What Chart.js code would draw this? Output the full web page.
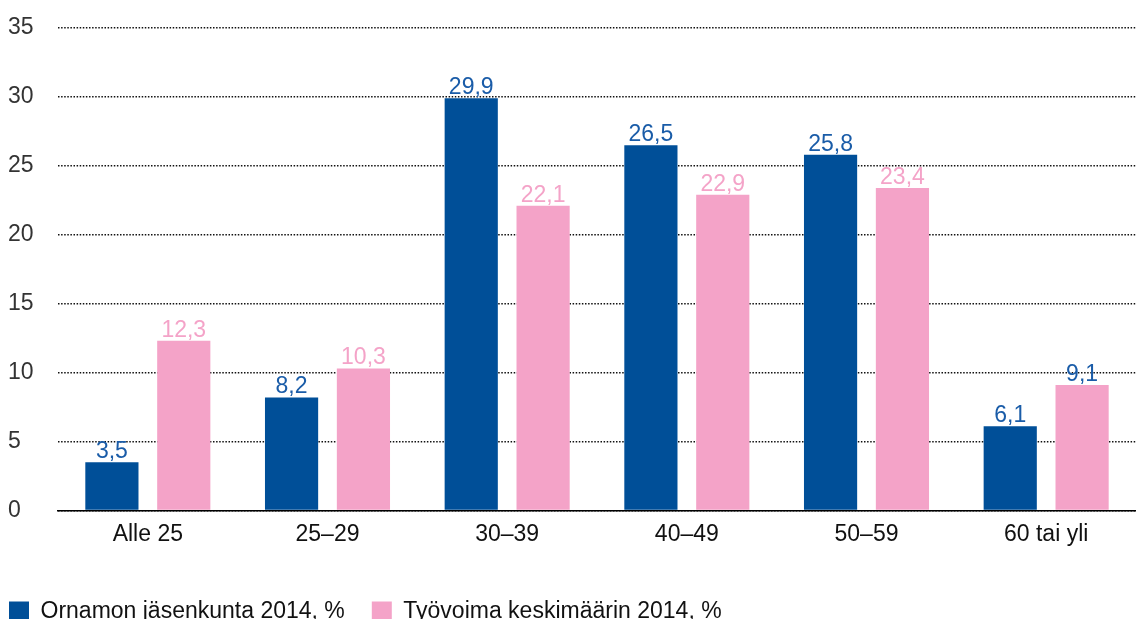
<!DOCTYPE html>
<html>
<head>
<meta charset="utf-8">
<script src="https://cdn.jsdelivr.net/npm/chart.js@4.4.1/dist/chart.umd.min.js"></script>
<style>
    html, body { margin: 0; padding: 0; background: #fff; overflow: hidden; }
    #wrap { width: 1136px; height: 633px; position: relative; }
</style>
</head>
<body>
<div id="wrap"><canvas id="ageChart"></canvas></div>
<script>
// DATA
const categories = ['Alle 25', '25–29', '30–39', '40–49', '50–59', '60 tai yli'];
const ornamoValues = [3.5, 8.2, 29.9, 26.5, 25.8, 6.1];
const workforceValues = [12.3, 10.3, 22.1, 22.9, 23.4, 9.1];
const seriesNames = ['Ornamon jäsenkunta 2014, %', 'Työvoima keskimäärin 2014, %'];
const yTicks = [0, 5, 10, 15, 20, 25, 30, 35];

const BLUE = '#004f98';
const PINK = '#f4a3c8';
const LABEL_BLUE = '#1a5ca8';
const FONT = '"Liberation Sans", Arial, sans-serif';

// value labels above bars, finnish decimal comma
const valueLabels = {
    id: 'valueLabels',
    afterDatasetsDraw(chart) {
        const ctx = chart.ctx;
        ctx.save();
        ctx.font = '23px ' + FONT;
        ctx.textAlign = 'center';
        ctx.textBaseline = 'bottom';
        chart.data.datasets.forEach(function (ds, di) {
            chart.getDatasetMeta(di).data.forEach(function (bar, i) {
                ctx.fillStyle = ds.labelColors[i];
                ctx.fillText(String(ds.data[i]).replace('.', ','), bar.x, bar.y + 1);
            });
        });
        ctx.restore();
    }
};

// legend starts near the canvas edge (padding is wide for the gap between items)
const legendLeft = {
    id: 'legendLeft',
    afterLayout(chart) {
        if (chart.legend) chart.legend.left = -18;
    }
};

const ageChart = new Chart(document.getElementById('ageChart'), {
    type: 'bar',
    data: {
        labels: categories,
        datasets: [{
            label: seriesNames[0],
            data: ornamoValues,
            backgroundColor: BLUE,
            labelColors: ornamoValues.map(() => LABEL_BLUE)
        },
        {
            label: seriesNames[1],
            data: workforceValues,
            backgroundColor: PINK,
            labelColors: [PINK, PINK, PINK, PINK, PINK, LABEL_BLUE]
        }]
    },
    plugins: [valueLabels, legendLeft],
    options: {
        responsive: true,
        maintainAspectRatio: false,
        animation: false,
        categoryPercentage: 0.8,
        barPercentage: 0.74,
        layout: {
            padding: { top: 28, right: 0, left: 8, bottom: 0 }
        },
        plugins: {
            tooltip: { enabled: false },
            legend: {
                position: 'bottom',
                align: 'start',
                labels: {
                    boxWidth: 20,
                    boxHeight: 20,
                    padding: 27,
                    color: '#111',
                    font: { size: 23, family: FONT }
                }
            }
        },
        scales: {
            x: {
                grid: { display: false, drawTicks: false },
                border: { display: true, color: '#000', width: 1.5 },
                afterFit: function (axis) { axis.height += 15; },
                ticks: {
                    color: '#111',
                    padding: 10,
                    font: { size: 23, family: FONT }
                }
            },
            y: {
                min: 0,
                max: 35,
                afterBuildTicks: function (axis) {
                    axis.ticks = yTicks.map(v => ({ value: v }));
                },
                afterFit: function (axis) { axis.width = 50; },
                grid: {
                    color: '#111',
                    lineWidth: 1.4,
                    drawTicks: false
                },
                border: { display: false, dash: [1.5, 1.6] },
                ticks: {
                    color: '#333',
                    crossAlign: 'far',
                    padding: 0,
                    font: { size: 23, family: FONT }
                }
            }
        }
    }
});
</script>
</body>
</html>
